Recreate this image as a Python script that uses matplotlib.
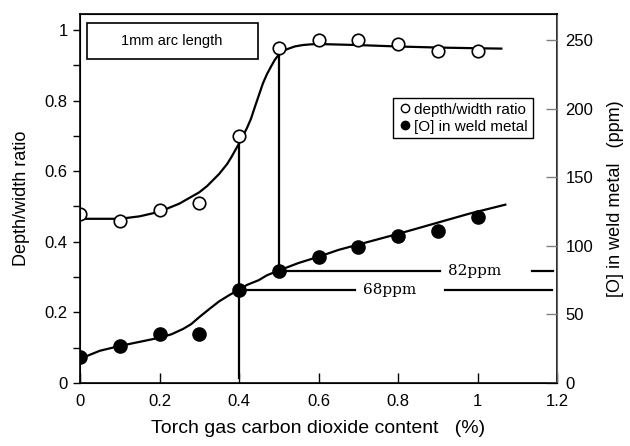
import matplotlib
matplotlib.use("Agg")
import matplotlib.pyplot as plt
from matplotlib.lines import Line2D

plt.rcParams['font.family'] = ['Liberation Sans', 'DejaVu Sans']

# puntos medidos
co2 = [0.0, 0.1, 0.2, 0.3, 0.4, 0.5, 0.6, 0.7, 0.8, 0.9, 1.0]
dw_ratio = [0.48, 0.46, 0.49, 0.51, 0.70, 0.95, 0.97, 0.97, 0.96, 0.94, 0.94]
oxygen_ppm = [18.7, 27, 36, 36, 68, 82, 92, 99, 107, 111, 121]

# curvas ajustadas
fit_dw_x = [0.0, 0.1, 0.15, 0.2, 0.25, 0.30, 0.32, 0.35, 0.37, 0.38, 0.40, 0.42,
            0.43, 0.44, 0.45, 0.46, 0.47, 0.48, 0.49, 0.50, 0.52, 0.54, 0.56,
            0.58, 0.60, 0.70, 0.80, 0.90, 1.00, 1.06]
fit_dw_y = [0.465, 0.465, 0.472, 0.485, 0.508, 0.540, 0.558, 0.592, 0.620, 0.638,
            0.678, 0.722, 0.748, 0.782, 0.815, 0.848, 0.874, 0.895, 0.915, 0.930,
            0.945, 0.953, 0.957, 0.959, 0.960, 0.957, 0.953, 0.950, 0.948, 0.947]
fit_o_x = [0.02, 0.05, 0.1, 0.15, 0.2, 0.23, 0.26, 0.28, 0.30, 0.33, 0.35, 0.375,
           0.40, 0.42, 0.45, 0.47, 0.50, 0.55, 0.60, 0.65, 0.81, 0.98, 1.07]
fit_o_y = [20, 23.5, 27, 30, 33, 35.5, 39.5, 43, 48, 55, 59.5, 64,
           68, 71.5, 75, 78.5, 82, 87.5, 92, 97, 109.5, 123.5, 130]

YL_TOP, YR_TOP = 1.045, 269.0
def to_ppm(v):
    return v * YR_TOP / YL_TOP

fig = plt.figure(figsize=(6.3, 4.46), dpi=100)
ax = fig.add_axes([80/630, 63/446, 477/630, 369/446])
ax2 = ax.twinx()

ax.plot(co2, dw_ratio, 'o', mfc='white', mec='black', mew=1.2, ms=9, zorder=5)
ax.plot(fit_dw_x, fit_dw_y, color='black', lw=1.6, zorder=4)
ax2.plot(co2, oxygen_ppm, 'o', mfc='black', mec='black', ms=9.5, zorder=5)
ax2.plot(fit_o_x, fit_o_y, color='black', lw=1.6, zorder=4)

# lineas de referencia
ax.plot([0.4, 0.4], [0.015, 0.678], color='black', lw=1.6)
ax2.plot([0.5, 0.5], [82, to_ppm(0.930)], color='black', lw=1.6)
for xs in ([0.4, 0.692], [0.918, 1.187]):
    ax2.plot(xs, [68, 68], color='black', lw=1.6)
for xs in ([0.5, 0.906], [1.137, 1.19]):
    ax2.plot(xs, [82, 82], color='black', lw=1.6)
ax2.text(0.78, 68, '68ppm', ha='center', va='center', fontsize=11,
         family=['DejaVu Serif'])
ax2.text(0.994, 82, '82ppm', ha='center', va='center', fontsize=11,
         family=['DejaVu Serif'])

# caja "1mm arc length"
ax.add_patch(plt.Rectangle((6.7/477, (383-59.3)/369), 171/477, 36/369,
                           transform=ax.transAxes, fill=False, ec='black', lw=1.2))
ax.text(0.193, 0.927, '1mm arc length', ha='center', va='center', fontsize=10.5,
        transform=ax.transAxes)

ax.set_xlim(0, 1.2)
ax.set_ylim(0, YL_TOP)
ax2.set_ylim(0, YR_TOP)
ax.set_xticks([0, 0.2, 0.4, 0.6, 0.8, 1.0, 1.2])
ax.set_xticklabels(['0', '0.2', '0.4', '0.6', '0.8', '1', '1.2'])
ax.set_yticks([0, 0.2, 0.4, 0.6, 0.8, 1.0])
ax.set_yticklabels(['0', '0.2', '0.4', '0.6', '0.8', '1'])
ax.set_yticks([0.1, 0.3, 0.5, 0.7, 0.9], minor=True)
ax2.set_yticks([0, 50, 100, 150, 200, 250])

ax.tick_params(axis='x', direction='in', length=7, width=1, labelsize=12, pad=8)
ax.tick_params(axis='y', which='both', direction='out', length=5, width=1,
               labelsize=12, pad=4)
ax2.tick_params(axis='y', direction='in', length=8, width=1, color='gray',
                labelsize=12, pad=6)
for sp in ax.spines.values():
    sp.set_linewidth(1.2)
ax2.spines['right'].set_color('dimgray')

ax.set_xlabel('Torch gas carbon dioxide content   (%)', fontsize=14, labelpad=8)
ax.set_ylabel('Depth/width ratio', fontsize=13, labelpad=10)
ax2.set_ylabel('[O] in weld metal   (ppm)', fontsize=13, labelpad=10)

handles = [Line2D([], [], ls='', marker='o', mfc='white', mec='black', ms=6),
           Line2D([], [], ls='', marker='o', mfc='black', mec='black', ms=6)]
ax.legend(handles, ['depth/width ratio', '[O] in weld metal'], loc='upper left',
          bbox_to_anchor=(0.656, 0.772), borderaxespad=0, fontsize=11,
          handletextpad=0.1, handlelength=1.0, borderpad=0.3, labelspacing=0.2,
          fancybox=False, edgecolor='black', framealpha=1)

fig.savefig('out.png', dpi=100, facecolor='white')
